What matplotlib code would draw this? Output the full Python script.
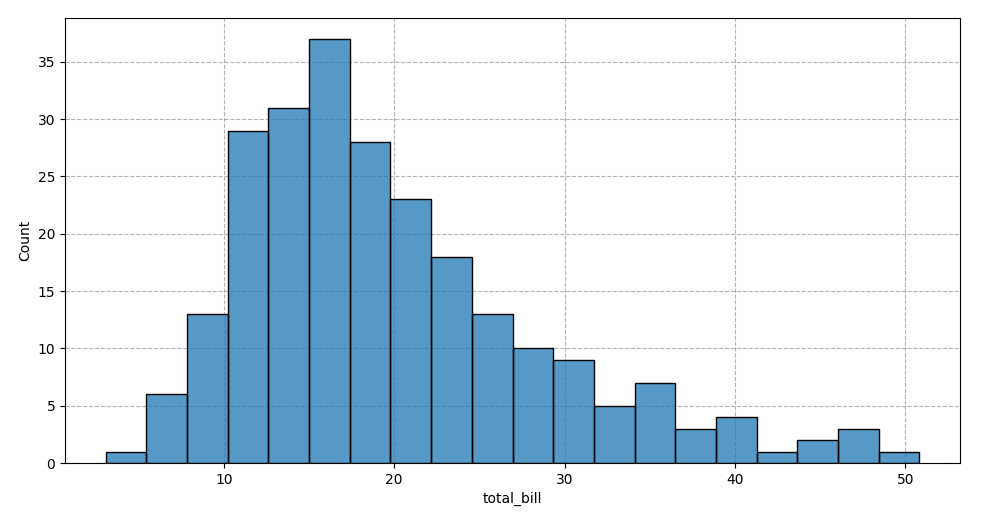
import numpy as np
import matplotlib
matplotlib.use("Agg")
import matplotlib.pyplot as plt

counts = [1, 6, 13, 29, 31, 37, 28, 23, 18, 13, 10, 9, 5, 7, 3, 4, 1, 2, 3, 1]
data_min = 3.07
data_max = 50.81

edges = np.linspace(data_min, data_max, len(counts) + 1)
widths = np.diff(edges)

fig = plt.figure(figsize=(10, 5.22), dpi=100)
ax = fig.add_axes([0.065, 0.113, 0.895, 0.853])
ax.bar(edges[:-1], counts, width=widths, align='edge', color='#1f77b4', alpha=0.75,
       edgecolor='none', zorder=2)
ax.bar(edges[:-1], counts, width=widths, align='edge', fill=False,
       edgecolor='black', linewidth=1.0, zorder=3)
ax.grid(True, linestyle='--', color='gray', alpha=0.6, zorder=0)
ax.set_axisbelow(True)
ax.set_xlabel('total_bill')
ax.set_ylabel('Count')
ax.set_xlim(0.68, 53.2)
ax.set_ylim(0, 38.85)
fig.savefig('out.png')
